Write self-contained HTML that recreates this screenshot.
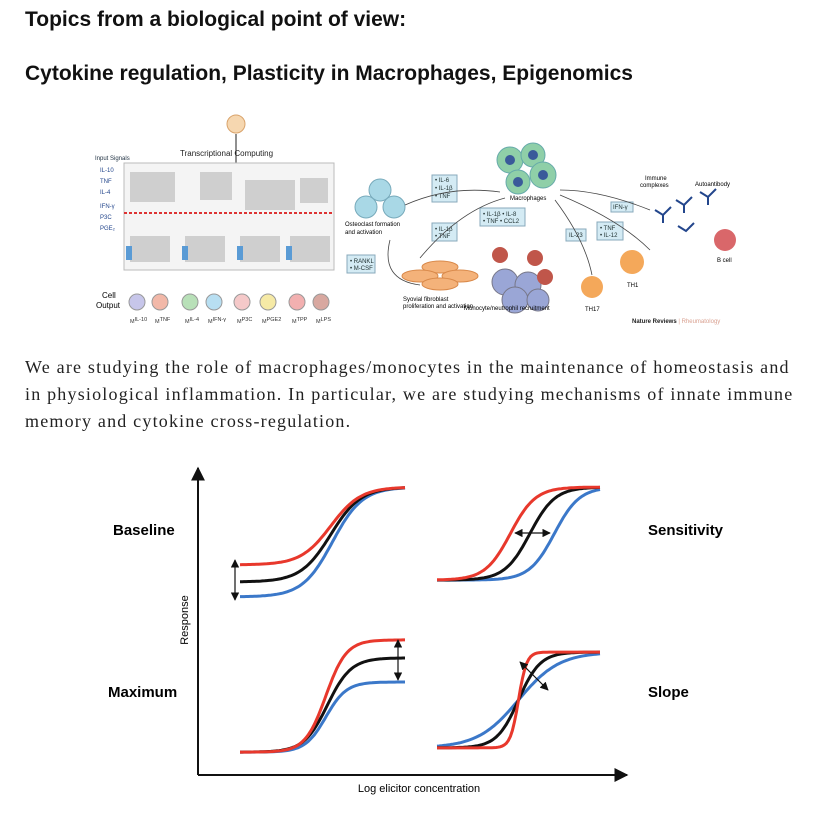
<!DOCTYPE html>
<html><head><meta charset="utf-8"><style>
body{margin:0;width:821px;height:813px;background:#fff;position:relative;overflow:hidden;font-family:"Liberation Sans",sans-serif;}
.h{position:absolute;left:25px;font-weight:bold;font-size:21px;color:#111;margin:0}
.p{position:absolute;left:25px;top:354px;width:800px;font-family:"Liberation Serif",serif;font-size:18px;letter-spacing:1.2px;line-height:27px;color:#222;margin:0;white-space:nowrap}
svg text{font-family:"Liberation Sans",sans-serif}
</style></head><body>
<h1 class="h" style="top:8px">Topics from a biological point of view:</h1>
<h2 class="h" style="top:62px">Cytokine regulation, Plasticity in Macrophages, Epigenomics</h2>

<svg style="position:absolute;left:0;top:0" width="821" height="340">
 <g>
  <text x="180" y="156" font-size="8" fill="#222">Transcriptional Computing</text>
  <circle cx="236" cy="124" r="9" fill="#f6d7b0" stroke="#d9a36b"/>
  <line x1="236" y1="134" x2="236" y2="165" stroke="#222"/>
  <text x="95" y="160" font-size="6" fill="#234">Input Signals</text>
  <g font-size="6" fill="#23468c">
   <text x="100" y="172">IL-10</text><text x="100" y="183">TNF</text><text x="100" y="194">IL-4</text>
   <text x="100" y="208">IFN-γ</text><text x="100" y="219">P3C</text><text x="100" y="230">PGE₂</text>
  </g>
  <rect x="124" y="163" width="210" height="107" fill="#f4f4f4" stroke="#bbb"/>
  <rect x="130" y="172" width="45" height="30" fill="#cfcfcf"/>
  <rect x="200" y="172" width="32" height="28" fill="#cfcfcf"/>
  <rect x="245" y="180" width="50" height="30" fill="#cfcfcf"/>
  <rect x="300" y="178" width="28" height="25" fill="#cfcfcf"/>
  <line x1="124" y1="213" x2="334" y2="213" stroke="#d33" stroke-width="2" stroke-dasharray="3 2"/>
  <rect x="130" y="236" width="40" height="26" fill="#cfcfcf"/>
  <rect x="185" y="236" width="40" height="26" fill="#cfcfcf"/>
  <rect x="240" y="236" width="40" height="26" fill="#cfcfcf"/>
  <rect x="290" y="236" width="40" height="26" fill="#cfcfcf"/>
  <g fill="#5a9bd5"><rect x="126" y="246" width="6" height="14"/><rect x="182" y="246" width="6" height="14"/><rect x="237" y="246" width="6" height="14"/><rect x="286" y="246" width="6" height="14"/></g>
  <text x="102" y="298" font-size="8">Cell</text><text x="96" y="308" font-size="8">Output</text>
  <g stroke="#999">
   <circle cx="137" cy="302" r="8" fill="#c7c6ea"/><circle cx="160" cy="302" r="8" fill="#f2b8a8"/>
   <circle cx="190" cy="302" r="8" fill="#b8e0b8"/><circle cx="214" cy="302" r="8" fill="#b8dff2"/>
   <circle cx="242" cy="302" r="8" fill="#f5c9c9"/><circle cx="268" cy="302" r="8" fill="#f6eaa6"/>
   <circle cx="297" cy="302" r="8" fill="#f2b0b0"/><circle cx="321" cy="302" r="8" fill="#d8a8a0"/>
  </g>
  <g font-size="5.5" fill="#333"><text x="130" y="323">M<tspan dy="-2">IL-10</tspan></text><text x="155" y="323">M<tspan dy="-2">TNF</tspan></text><text x="185" y="323">M<tspan dy="-2">IL-4</tspan></text><text x="208" y="323">M<tspan dy="-2">IFN-γ</tspan></text><text x="237" y="323">M<tspan dy="-2">P3C</tspan></text><text x="262" y="323">M<tspan dy="-2">PGE2</tspan></text><text x="292" y="323">M<tspan dy="-2">TPP</tspan></text><text x="316" y="323">M<tspan dy="-2">LPS</tspan></text></g>
 </g>
 <g>
  <g fill="#8fcfa8" stroke="#6aa"><circle cx="510" cy="160" r="13"/><circle cx="533" cy="155" r="12"/><circle cx="543" cy="175" r="13"/><circle cx="518" cy="182" r="12"/></g>
  <g fill="#3a5a9a"><circle cx="510" cy="160" r="5"/><circle cx="533" cy="155" r="5"/><circle cx="543" cy="175" r="5"/><circle cx="518" cy="182" r="5"/></g>
  <text x="510" y="200" font-size="6">Macrophages</text>
  <g fill="#a9d8e6" stroke="#7ab"><circle cx="380" cy="190" r="11"/><circle cx="366" cy="207" r="11"/><circle cx="394" cy="207" r="11"/></g>
  <text x="345" y="226" font-size="6">Osteoclast formation</text><text x="345" y="234" font-size="6">and activation</text>
  <g fill="#f4b27a" stroke="#d9894a"><ellipse cx="440" cy="267" rx="18" ry="6"/><ellipse cx="420" cy="276" rx="18" ry="6"/><ellipse cx="460" cy="276" rx="18" ry="6"/><ellipse cx="440" cy="284" rx="18" ry="6"/></g>
  <text x="403" y="301" font-size="6">Syovial fibroblast</text><text x="403" y="308" font-size="6">proliferation and activation</text>
  <g fill="#9aa6d6" stroke="#778"><circle cx="505" cy="282" r="13"/><circle cx="528" cy="285" r="13"/><circle cx="515" cy="300" r="13"/><circle cx="538" cy="300" r="11"/></g>
  <g fill="#c0564a"><circle cx="500" cy="255" r="8"/><circle cx="535" cy="258" r="8"/><circle cx="545" cy="277" r="8"/></g>
  <text x="464" y="310" font-size="6">Monocyte/neutrophil recruitment</text>
  <circle cx="592" cy="287" r="11" fill="#f4a85a"/><text x="585" y="311" font-size="6">TH17</text>
  <circle cx="632" cy="262" r="12" fill="#f4a85a"/><text x="627" y="287" font-size="6">TH1</text>
  <circle cx="725" cy="240" r="11" fill="#d9676a"/><text x="717" y="262" font-size="6">B cell</text>
  <text x="645" y="180" font-size="6">Immune</text><text x="640" y="187" font-size="6">complexes</text><text x="695" y="186" font-size="6">Autoantibody</text>
  <g stroke="#23468c" stroke-width="2" fill="none"><path d="M655 210 l8 5 l8 -8 M663 215 v8"/><path d="M676 200 l8 5 l8 -8 M684 205 v8"/><path d="M678 226 l8 5 l8 -8"/><path d="M700 192 l8 5 l8 -8 M708 197 v8"/></g>
  <g fill="#d4ebf4" stroke="#8ab" font-size="6">
   <rect x="432" y="175" width="25" height="27"/><rect x="432" y="223" width="25" height="18"/><rect x="480" y="208" width="45" height="18"/>
   <rect x="347" y="255" width="28" height="18"/><rect x="566" y="229" width="20" height="12"/><rect x="597" y="222" width="26" height="18"/><rect x="611" y="202" width="22" height="10"/>
  </g>
  <g font-size="6" fill="#233"><text x="435" y="182">• IL-6</text><text x="435" y="190">• IL-1β</text><text x="435" y="198">• TNF</text>
   <text x="435" y="231">• IL-1β</text><text x="435" y="238">• TNF</text><text x="483" y="216">• IL-1β • IL-8</text><text x="483" y="223">• TNF • CCL2</text>
   <text x="350" y="263">• RANKL</text><text x="350" y="270">• M-CSF</text><text x="569" y="237">IL-23</text><text x="600" y="230">• TNF</text><text x="600" y="237">• IL-12</text><text x="613" y="209">IFN-γ</text></g>
  <g stroke="#444" fill="none" stroke-width="0.8"><path d="M500 192 Q450 185 405 205"/><path d="M420 258 Q460 210 505 198"/><path d="M560 195 Q620 220 650 250"/><path d="M560 190 Q600 190 650 210"/><path d="M555 200 Q585 240 592 275"/><path d="M390 240 Q380 280 420 285"/></g>
  <text x="632" y="323" font-size="6" font-weight="bold" fill="#222">Nature Reviews <tspan fill="#d9a090" font-weight="normal">| Rheumatology</tspan></text>
 </g>
</svg>

<p class="p">We are studying the role of macrophages/monocytes in the maintenance of homeostasis and<br>in physiological inflammation. In particular, we are studying mechanisms of innate immune<br>memory and cytokine cross-regulation.</p>

<svg id="chart" style="position:absolute;left:0;top:0" width="821" height="813"></svg>
<script>
// curve parameters per panel: series colors, low response, high response, midpoint, steepness
const panelNames = ['Baseline','Sensitivity','Maximum','Slope'];
const seriesColors = ['#e8382c','#111111','#3b78c9'];
const baselineLow = [0.689,0.633,0.584];
const baselineHigh = [0.944,0.944,0.944];
const baselineMid = [0.55,0.55,0.56];
const baselineK = [11,11,11];
const sensitivityLow = [0.639,0.639,0.639];
const sensitivityHigh = [0.944,0.944,0.944];
const sensitivityMid = [0.45,0.57,0.72];
const sensitivityK = [13,13,13];
const maximumLow = [0.075,0.075,0.075];
const maximumHigh = [0.443,0.384,0.305];
const maximumMid = [0.52,0.53,0.52];
const maximumK = [16,14,16];
const slopeLow = [0.089,0.089,0.089];
const slopeHigh = [0.403,0.403,0.403];
const slopeMid = [0.5,0.5,0.5];
const slopeK = [40,15,8];

const NS='http://www.w3.org/2000/svg';
const svg=document.getElementById('chart');
const yScale=v=>775-v*305;
const panels=[
 {x0:240,x1:405,low:baselineLow,high:baselineHigh,mid:baselineMid,k:baselineK},
 {x0:437,x1:600,low:sensitivityLow,high:sensitivityHigh,mid:sensitivityMid,k:sensitivityK},
 {x0:240,x1:405,low:maximumLow,high:maximumHigh,mid:maximumMid,k:maximumK},
 {x0:437,x1:600,low:slopeLow,high:slopeHigh,mid:slopeMid,k:slopeK}];
function mk(t,a){const e=document.createElementNS(NS,t);for(const k in a)e.setAttribute(k,a[k]);svg.appendChild(e);return e;}
const defs=mk('defs',{});
defs.innerHTML='<marker id="ah" viewBox="0 0 10 10" refX="9" refY="5" markerWidth="7" markerHeight="7" orient="auto-start-reverse"><path d="M0 0L10 5L0 10z" fill="#111"/></marker>';
let ax=mk('line',{x1:198,y1:775,x2:198,y2:468,stroke:'#111','stroke-width':2,'marker-end':'url(#ah)'});


ax=mk('line',{x1:198,y1:775,x2:627,y2:775,stroke:'#111','stroke-width':2,'marker-end':'url(#ah)'});


let t=mk('text',{x:188,y:620,'font-size':11,transform:'rotate(-90 188 620)','text-anchor':'middle'});t.textContent='Response';


t=mk('text',{x:419,y:792,'font-size':11,'text-anchor':'middle'});t.textContent='Log elicitor concentration';


const labelPos=[[113,535],[648,535],[108,697],[648,697]];
panels.forEach((p,i)=>{
 const lb=mk('text',{x:labelPos[i][0],y:labelPos[i][1],'font-size':15,'font-weight':'bold'});lb.textContent=panelNames[i];
 
 
 [2,1,0].forEach(s=>{
  let d='';
  for(let j=0;j<=80;j++){const u=j/80;const v=p.low[s]+(p.high[s]-p.low[s])/(1+Math.exp(-p.k[s]*(u-p.mid[s])));
   d+=(j?'L':'M')+(p.x0+u*(p.x1-p.x0)).toFixed(1)+' '+yScale(v).toFixed(1);}
  const pa=mk('path',{d:d,fill:'none',stroke:seriesColors[s],'stroke-width':3});
  
  
 });
});
const arrows=[[235,560,235,600],[515,533,550,533],[398,640,398,680],[520,662,548,690]];
arrows.forEach((a,i)=>{const l=mk('line',{x1:a[0],y1:a[1],x2:a[2],y2:a[3],stroke:'#111','stroke-width':1.2,'marker-start':'url(#ah)','marker-end':'url(#ah)'});
 
 });
</script>
</body></html>
